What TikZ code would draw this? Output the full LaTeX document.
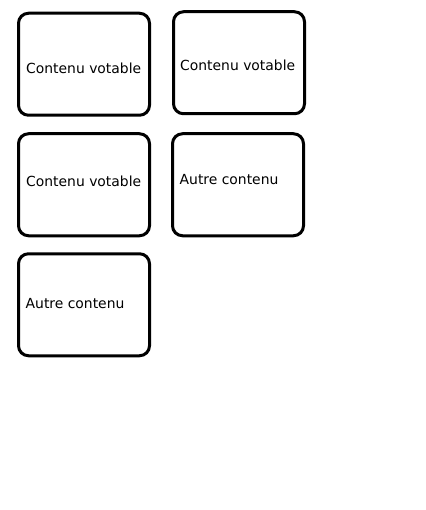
\documentclass[tikz,border=0pt]{standalone}
\usepackage{fontspec}
\setmainfont{DejaVu Sans}
\usetikzlibrary{positioning}

\begin{document}
\begin{tikzpicture}[
    x=1pt, y=-1pt,
    card/.style={draw=black, line width=3pt, rounded corners=10pt, minimum width=131pt, minimum height=102pt, inner sep=0pt},
    cardtext/.style={anchor=base west, inner sep=0pt, font=\fontsize{13.9pt}{16pt}\selectfont}
]
\useasboundingbox (0,0) rectangle (425,510);
\node[card] (vote1) at (84,64.25) {};
\node[card] (vote2) at (239,62.75) {};
\node[card] (vote3) at (84,184.75) {};
\node[card] (other1) at (238,184.75) {};
\node[card] (other2) at (84,304.75) {};
\node[cardtext] (vote1txt) at (26,73.3) {Contenu votable};
\node[cardtext] (vote2txt) at (180,70.7) {Contenu votable};
\node[cardtext] (vote3txt) at (26,186.7) {Contenu votable};
\node[cardtext] (other1txt) at (179.5,185) {Autre contenu};
\node[cardtext] (other2txt) at (25.5,308.3) {Autre contenu};
\end{tikzpicture}
\end{document}
